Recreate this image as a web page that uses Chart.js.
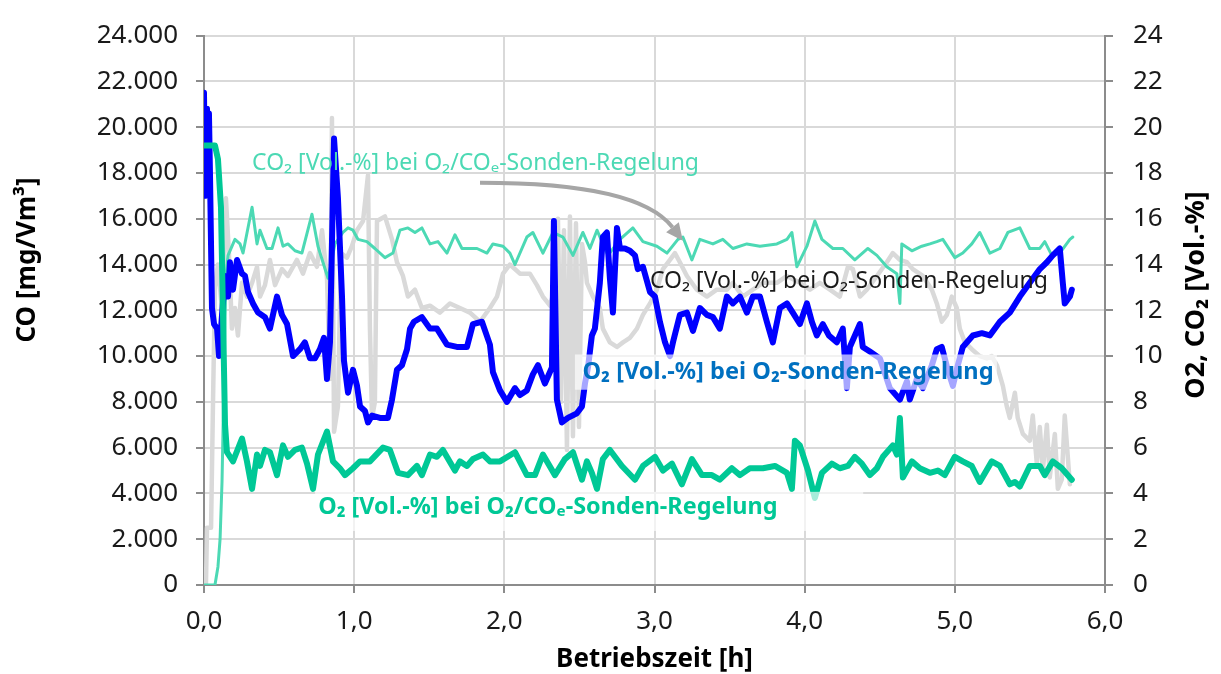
<!DOCTYPE html>
<html>
<head>
<meta charset="utf-8">
<script src="https://cdn.jsdelivr.net/npm/chart.js@4"></script>
<style>
  body { margin: 0; background: #fff; }
  canvas { display: block; }
</style>
</head>
<body>
<canvas id="chart" width="1221" height="674"></canvas>
<script>
// Betriebszeit [h] and values [Vol.-%]

// CO2 bei O2-Sonden-Regelung (grey)
const co2SondeTime = [0, 0.013, 0.02, 0.047, 0.06, 0.073, 0.093, 0.12, 0.146, 0.166, 0.186, 0.206, 0.226, 0.253, 0.286, 0.32, 0.353, 0.373, 0.406, 0.439, 0.473, 0.519, 0.559, 0.619, 0.659, 0.706, 0.752, 0.786, 0.819, 0.839, 0.852, 0.866, 0.892, 0.912, 0.952, 0.985, 1.019, 1.059, 1.092, 1.105, 1.119, 1.138, 1.152, 1.205, 1.252, 1.285, 1.325, 1.358, 1.405, 1.451, 1.505, 1.571, 1.638, 1.704, 1.771, 1.838, 1.904, 1.951, 1.991, 2.037, 2.104, 2.17, 2.217, 2.257, 2.304, 2.337, 2.357, 2.377, 2.397, 2.417, 2.437, 2.457, 2.477, 2.497, 2.517, 2.537, 2.55, 2.59, 2.636, 2.656, 2.703, 2.75, 2.79, 2.836, 2.883, 2.923, 2.97, 3.016, 3.056, 3.103, 3.136, 3.169, 3.216, 3.282, 3.349, 3.415, 3.482, 3.522, 3.588, 3.655, 3.722, 3.815, 3.882, 3.968, 4.035, 4.101, 4.168, 4.234, 4.288, 4.321, 4.368, 4.414, 4.481, 4.547, 4.587, 4.634, 4.681, 4.72, 4.787, 4.847, 4.88, 4.913, 4.947, 4.98, 5.013, 5.033, 5.067, 5.113, 5.166, 5.213, 5.246, 5.28, 5.32, 5.346, 5.366, 5.4, 5.419, 5.453, 5.499, 5.519, 5.546, 5.566, 5.586, 5.613, 5.632, 5.666, 5.686, 5.712, 5.732, 5.766];
const co2SondeValue = [0, 0, 2.5, 2.5, 8.0, 13.0, 14.0, 12.0, 16.9, 14.5, 11.2, 12.1, 10.9, 13.2, 12.6, 13.2, 13.9, 12.6, 13.1, 14.2, 13.1, 13.8, 13.5, 14.2, 13.6, 14.5, 13.9, 15.5, 13.4, 9.0, 20.4, 6.7, 7.8, 14.5, 14.3, 14.8, 15.5, 15.9, 17.9, 11.2, 7.3, 8.0, 15.9, 16.1, 15.1, 14.1, 13.5, 12.6, 12.9, 12.1, 12.2, 11.9, 12.3, 12.1, 11.9, 11.5, 12.1, 12.6, 13.6, 14.0, 13.6, 13.6, 13.1, 12.6, 12.2, 13.0, 16.0, 8.0, 15.5, 5.9, 16.1, 6.5, 15.8, 6.9, 14.9, 14.1, 13.2, 12.6, 12.1, 11.2, 10.6, 10.4, 10.6, 10.8, 11.2, 11.8, 12.3, 12.9, 13.8, 14.2, 14.5, 14.1, 13.5, 12.9, 12.6, 12.9, 12.9, 13.2, 12.6, 12.9, 13.2, 13.2, 13.5, 13.2, 12.9, 13.2, 12.9, 12.6, 13.9, 13.8, 12.6, 12.9, 13.5, 14.1, 14.5, 14.2, 14.1, 13.8, 13.5, 12.9, 12.3, 11.5, 11.8, 12.6, 12.1, 11.2, 10.6, 10.3, 10.0, 9.9, 10.0, 9.6, 8.7, 7.8, 7.3, 8.4, 7.3, 6.6, 6.3, 7.4, 5.3, 6.9, 5.0, 7.0, 4.7, 6.6, 4.2, 4.6, 7.4, 4.4];

// CO2 bei O2/COe-Sonden-Regelung (thin teal)
const co2CoeTime = [0, 0.073, 0.093, 0.107, 0.12, 0.133, 0.146, 0.16, 0.206, 0.24, 0.26, 0.32, 0.353, 0.373, 0.419, 0.453, 0.493, 0.526, 0.559, 0.606, 0.652, 0.719, 0.759, 0.792, 0.826, 0.872, 0.925, 0.959, 0.992, 1.025, 1.085, 1.138, 1.205, 1.258, 1.305, 1.358, 1.405, 1.451, 1.505, 1.558, 1.618, 1.671, 1.718, 1.818, 1.884, 1.924, 1.991, 2.037, 2.071, 2.15, 2.19, 2.257, 2.324, 2.39, 2.457, 2.523, 2.57, 2.617, 2.69, 2.77, 2.856, 2.923, 3.016, 3.083, 3.156, 3.189, 3.249, 3.302, 3.389, 3.455, 3.522, 3.615, 3.702, 3.815, 3.882, 3.915, 3.948, 4.015, 4.068, 4.115, 4.188, 4.254, 4.334, 4.421, 4.481, 4.547, 4.614, 4.634, 4.647, 4.714, 4.78, 4.834, 4.88, 4.92, 5.0, 5.053, 5.113, 5.166, 5.233, 5.3, 5.353, 5.433, 5.499, 5.566, 5.599, 5.646, 5.699, 5.766, 5.786];
const co2CoeValue = [0, 0, 0.8, 2.0, 4.5, 9.0, 13.5, 14.4, 15.1, 14.9, 14.5, 16.5, 14.9, 15.5, 14.7, 14.7, 15.6, 14.8, 14.9, 14.6, 14.5, 16.2, 14.8, 14.1, 13.4, 14.9, 15.4, 15.6, 15.5, 15.1, 15.0, 14.7, 14.3, 14.5, 15.5, 15.6, 15.4, 15.6, 14.9, 15.0, 14.5, 15.3, 14.7, 14.7, 14.5, 14.9, 14.8, 14.5, 14.0, 15.2, 15.4, 14.5, 15.4, 15.2, 14.4, 15.4, 14.7, 15.5, 14.4, 15.1, 15.6, 15.0, 14.8, 14.5, 15.1, 15.2, 14.2, 15.1, 14.9, 15.1, 14.7, 14.9, 14.8, 14.9, 15.1, 15.4, 13.9, 14.8, 15.9, 15.1, 14.7, 14.7, 14.2, 14.7, 14.4, 13.9, 13.6, 12.3, 14.9, 14.6, 14.8, 14.9, 15.0, 15.1, 14.3, 14.5, 14.9, 15.4, 14.5, 14.7, 15.4, 15.6, 14.7, 14.7, 15.0, 14.4, 14.5, 15.1, 15.2];

// O2 bei O2-Sonden-Regelung (blue)
const o2SondeTime = [0, 0.007, 0.02, 0.027, 0.033, 0.04, 0.053, 0.067, 0.087, 0.1, 0.12, 0.14, 0.16, 0.173, 0.193, 0.22, 0.253, 0.273, 0.293, 0.326, 0.36, 0.406, 0.439, 0.486, 0.519, 0.553, 0.593, 0.639, 0.672, 0.706, 0.739, 0.772, 0.799, 0.819, 0.839, 0.866, 0.892, 0.919, 0.932, 0.959, 0.992, 1.019, 1.039, 1.072, 1.092, 1.119, 1.172, 1.225, 1.252, 1.285, 1.318, 1.352, 1.372, 1.398, 1.451, 1.505, 1.551, 1.618, 1.684, 1.751, 1.791, 1.851, 1.904, 1.924, 1.971, 2.017, 2.071, 2.104, 2.15, 2.19, 2.224, 2.27, 2.317, 2.33, 2.35, 2.383, 2.423, 2.483, 2.517, 2.537, 2.557, 2.583, 2.603, 2.636, 2.656, 2.683, 2.703, 2.723, 2.75, 2.77, 2.803, 2.836, 2.87, 2.889, 2.923, 2.97, 3.003, 3.036, 3.07, 3.103, 3.123, 3.169, 3.216, 3.256, 3.302, 3.349, 3.389, 3.435, 3.482, 3.522, 3.569, 3.615, 3.655, 3.702, 3.748, 3.788, 3.835, 3.882, 3.921, 3.968, 4.015, 4.048, 4.081, 4.121, 4.161, 4.214, 4.254, 4.281, 4.301, 4.368, 4.387, 4.434, 4.501, 4.567, 4.634, 4.681, 4.7, 4.747, 4.787, 4.847, 4.88, 4.913, 4.953, 4.987, 5.02, 5.053, 5.12, 5.18, 5.233, 5.3, 5.366, 5.433, 5.499, 5.566, 5.613, 5.652, 5.699, 5.719, 5.732, 5.766, 5.779];
const o2SondeValue = [21.5, 17.0, 20.8, 17.5, 20.6, 17.9, 12.1, 11.4, 11.2, 10.0, 11.8, 13.5, 12.6, 14.1, 12.9, 14.2, 13.6, 13.5, 12.8, 12.3, 11.9, 11.7, 11.2, 12.6, 11.8, 11.4, 10.0, 10.3, 10.6, 9.9, 9.9, 10.3, 10.8, 9.0, 10.6, 19.5, 16.9, 12.6, 9.8, 8.4, 9.4, 8.7, 7.8, 7.6, 7.1, 7.4, 7.3, 7.3, 8.1, 9.4, 9.6, 10.3, 11.2, 11.5, 11.7, 11.2, 11.2, 10.5, 10.4, 10.4, 11.4, 11.5, 10.5, 9.3, 8.5, 8.0, 8.6, 8.3, 8.5, 9.2, 9.6, 8.8, 9.5, 15.9, 8.1, 7.1, 7.3, 7.5, 7.8, 8.8, 9.5, 10.9, 11.2, 13.2, 15.2, 15.4, 13.4, 11.9, 15.6, 14.7, 14.7, 14.6, 14.4, 13.8, 13.9, 12.8, 12.6, 11.5, 10.6, 10.0, 10.6, 11.8, 11.9, 11.1, 12.1, 11.8, 11.7, 11.2, 12.6, 12.3, 12.6, 11.9, 12.6, 12.6, 11.5, 10.6, 12.1, 12.3, 11.9, 11.4, 12.3, 11.5, 10.9, 11.4, 10.9, 10.6, 11.2, 8.6, 10.4, 11.4, 10.4, 10.2, 9.9, 8.6, 8.1, 8.9, 8.1, 9.0, 8.6, 9.6, 10.3, 10.4, 9.4, 8.7, 9.6, 10.4, 10.9, 11.0, 10.9, 11.5, 11.9, 12.6, 13.2, 13.8, 14.1, 14.4, 14.7, 13.2, 12.3, 12.6, 12.9];

// O2 bei O2/COe-Sonden-Regelung (green)
const o2CoeTime = [0, 0.047, 0.073, 0.093, 0.113, 0.126, 0.14, 0.153, 0.193, 0.253, 0.286, 0.32, 0.353, 0.373, 0.406, 0.439, 0.486, 0.526, 0.559, 0.606, 0.652, 0.686, 0.726, 0.759, 0.819, 0.859, 0.905, 0.939, 0.992, 1.039, 1.105, 1.192, 1.238, 1.292, 1.358, 1.418, 1.451, 1.505, 1.551, 1.591, 1.671, 1.704, 1.751, 1.791, 1.858, 1.904, 1.971, 2.071, 2.15, 2.204, 2.257, 2.337, 2.403, 2.457, 2.517, 2.55, 2.583, 2.617, 2.656, 2.703, 2.783, 2.87, 2.923, 3.003, 3.056, 3.116, 3.182, 3.249, 3.316, 3.382, 3.435, 3.515, 3.569, 3.635, 3.722, 3.802, 3.882, 3.915, 3.935, 3.968, 4.022, 4.068, 4.115, 4.181, 4.234, 4.288, 4.334, 4.381, 4.434, 4.481, 4.521, 4.587, 4.614, 4.634, 4.654, 4.714, 4.767, 4.834, 4.887, 4.933, 5.0, 5.053, 5.113, 5.166, 5.246, 5.3, 5.366, 5.4, 5.433, 5.499, 5.566, 5.599, 5.652, 5.712, 5.779];
const o2CoeValue = [19.2, 19.2, 19.2, 18.6, 16.5, 12.0, 7.0, 5.8, 5.4, 6.4, 5.4, 4.2, 5.7, 5.2, 5.9, 5.8, 4.8, 6.1, 5.6, 5.9, 6.0, 5.3, 4.2, 5.7, 6.7, 5.4, 5.1, 4.8, 5.1, 5.4, 5.4, 6.0, 5.9, 4.9, 4.8, 5.2, 4.8, 5.7, 5.6, 5.9, 5.0, 5.4, 5.2, 5.5, 5.7, 5.4, 5.4, 5.8, 4.8, 4.8, 5.7, 4.8, 5.5, 5.8, 4.6, 5.4, 4.9, 4.2, 5.5, 5.9, 5.2, 4.6, 5.2, 5.6, 5.0, 5.3, 4.4, 5.5, 4.8, 4.8, 4.6, 5.1, 4.8, 5.1, 5.1, 5.2, 4.9, 4.2, 6.3, 6.1, 5.0, 3.8, 4.9, 5.3, 5.1, 5.2, 5.6, 5.3, 4.8, 5.1, 5.6, 6.1, 5.7, 7.3, 4.7, 5.4, 5.1, 4.9, 5.0, 4.8, 5.6, 5.4, 5.2, 4.5, 5.4, 5.2, 4.4, 4.5, 4.3, 5.2, 5.2, 4.8, 5.4, 5.1, 4.6];

function points(t, v) {
  return t.map((x, i) => ({ x: x, y: v[i] }));
}

const FONT = "'Noto Sans', sans-serif";

// text labels in the plot, position in data units (left edge, vertical middle)
const labels = [
  { text: 'CO₂ [Vol.-%] bei O₂/COₑ-Sonden-Regelung', x: 0.32, y: 18.4, color: '#4cd9b4', bold: false, size: 23 },
  { text: 'CO₂ [Vol.-%] bei O₂-Sonden-Regelung', x: 2.97, y: 13.25, color: '#1a1a1a', bold: false, size: 23 },
  { text: 'O₂ [Vol.-%] bei O₂-Sonden-Regelung', x: 2.52, y: 9.3, color: '#0070c0', bold: true, size: 23.6 },
  { text: 'O₂ [Vol.-%] bei O₂/COₑ-Sonden-Regelung', x: 0.76, y: 3.4, color: '#00c896', bold: true, size: 23.4 }
];
// white see-through boxes behind the bold labels: [x0, x1, yTop, yBottom]
const boxes = [
  [2.47, 5.28, 10.07, 8.53],
  [0.74, 4.39, 4.07, 2.36]
];
// arrow: start, two control points, tip
const arrow = [[1.838, 17.57], [2.57, 17.57], [2.97, 16.9], [3.189, 15.04]];

const annotate = {
  id: 'annotate',
  afterDatasetsDraw(chart) {
    const ctx = chart.ctx;
    const sx = chart.scales.x, sy = chart.scales.yR;
    ctx.save();
    ctx.fillStyle = 'rgba(255,255,255,0.65)';
    boxes.forEach(b => {
      const x0 = sx.getPixelForValue(b[0]), x1 = sx.getPixelForValue(b[1]);
      const y0 = sy.getPixelForValue(b[2]), y1 = sy.getPixelForValue(b[3]);
      ctx.fillRect(x0, y0, x1 - x0, y1 - y0);
    });

    // arrow
    const p = arrow.map(a => [sx.getPixelForValue(a[0]), sy.getPixelForValue(a[1])]);
    const ang = Math.atan2(p[3][1] - p[2][1], p[3][0] - p[2][0]);
    const head = 17;
    const bx = p[3][0] - Math.cos(ang) * head, by = p[3][1] - Math.sin(ang) * head;
    ctx.strokeStyle = '#a6a6a6';
    ctx.fillStyle = '#a6a6a6';
    ctx.lineWidth = 4;
    ctx.beginPath();
    ctx.moveTo(p[0][0], p[0][1]);
    ctx.bezierCurveTo(p[1][0], p[1][1], p[2][0], p[2][1], bx, by);
    ctx.stroke();
    ctx.beginPath();
    ctx.moveTo(p[3][0], p[3][1]);
    ctx.lineTo(bx + Math.cos(ang + Math.PI / 2) * 8, by + Math.sin(ang + Math.PI / 2) * 8);
    ctx.lineTo(bx + Math.cos(ang - Math.PI / 2) * 8, by + Math.sin(ang - Math.PI / 2) * 8);
    ctx.closePath();
    ctx.fill();

    ctx.textBaseline = 'middle';
    ctx.textAlign = 'left';
    labels.forEach(l => {
      ctx.font = (l.bold ? 'bold ' : '') + l.size + 'px ' + FONT;
      ctx.fillStyle = l.color;
      ctx.fillText(l.text, sx.getPixelForValue(l.x), sy.getPixelForValue(l.y));
    });
    ctx.restore();
  },
  afterDraw(chart) {
    const ctx = chart.ctx;
    const area = chart.chartArea;
    ctx.save();
    ctx.fillStyle = '#000';
    ctx.font = 'bold 26px ' + FONT;
    ctx.textAlign = 'center';
    ctx.textBaseline = 'middle';
    ctx.fillText('Betriebszeit [h]', (area.left + area.right) / 2, 660);

    ctx.translate(28, 260);
    ctx.rotate(-Math.PI / 2);
    ctx.fillText('CO [mg/Vm³]', 0, 0);
    ctx.restore();

    ctx.save();
    ctx.fillStyle = '#000';
    ctx.font = 'bold 27px ' + FONT;
    ctx.textAlign = 'center';
    ctx.textBaseline = 'middle';
    ctx.translate(1196, 295);
    ctx.rotate(-Math.PI / 2);
    ctx.fillText('O2, CO₂ [Vol.-%]', 0, 0);
    ctx.restore();
  }
};

window.addEventListener('load', function () {
  const tickFont = { family: FONT, size: 26 };
  new Chart(document.getElementById('chart').getContext('2d'), {
    type: 'line',
    data: {
      datasets: [
        { label: 'O2 bei O2/COe-Sonden-Regelung', data: points(o2CoeTime, o2CoeValue), borderColor: '#00c896', borderWidth: 6, order: 0 },
        { label: 'O2 bei O2-Sonden-Regelung', data: points(o2SondeTime, o2SondeValue), borderColor: '#0000ff', borderWidth: 6, order: 1 },
        { label: 'CO2 bei O2/COe-Sonden-Regelung', data: points(co2CoeTime, co2CoeValue), borderColor: '#4cd9b4', borderWidth: 3, order: 2 },
        { label: 'CO2 bei O2-Sonden-Regelung', data: points(co2SondeTime, co2SondeValue), borderColor: '#d9d9d9', borderWidth: 4.5, order: 3 }
      ].map(d => Object.assign(d, { yAxisID: 'yR', pointRadius: 0, tension: 0, fill: false, borderJoinStyle: 'round', borderCapStyle: 'round' }))
    },
    options: {
      responsive: false,
      animation: false,
      layout: { padding: { top: 25 } },
      plugins: { legend: { display: false }, tooltip: { enabled: false } },
      scales: {
        x: {
          type: 'linear', min: 0, max: 6,
          afterFit: s => { s.height = 89; },
          border: { color: '#8c8c8c', width: 2 },
          grid: { color: '#d9d9d9', lineWidth: 2, tickLength: 8, tickColor: '#8c8c8c' },
          ticks: { stepSize: 1, color: '#1a1a1a', font: tickFont, padding: 13, maxRotation: 0,
                   callback: v => v.toFixed(1).replace('.', ',') }
        },
        yL: {
          position: 'left', min: 0, max: 24000,
          afterFit: s => { s.width = 204; },
          border: { color: '#8c8c8c', width: 2 },
          grid: { color: '#d9d9d9', lineWidth: 2, tickLength: 8, tickColor: '#8c8c8c' },
          ticks: { stepSize: 2000, color: '#1a1a1a', font: tickFont, padding: 18,
                   callback: v => String(v).replace(/\B(?=(\d{3})+(?!\d))/g, '.') }
        },
        yR: {
          position: 'right', min: 0, max: 24,
          afterFit: s => { s.width = 116; },
          border: { color: '#8c8c8c', width: 2 },
          grid: { drawOnChartArea: false, tickLength: 8, tickColor: '#8c8c8c', lineWidth: 2 },
          ticks: { stepSize: 2, color: '#1a1a1a', font: tickFont, padding: 20 }
        }
      }
    },
    plugins: [annotate]
  });
});
</script>
</body>
</html>
